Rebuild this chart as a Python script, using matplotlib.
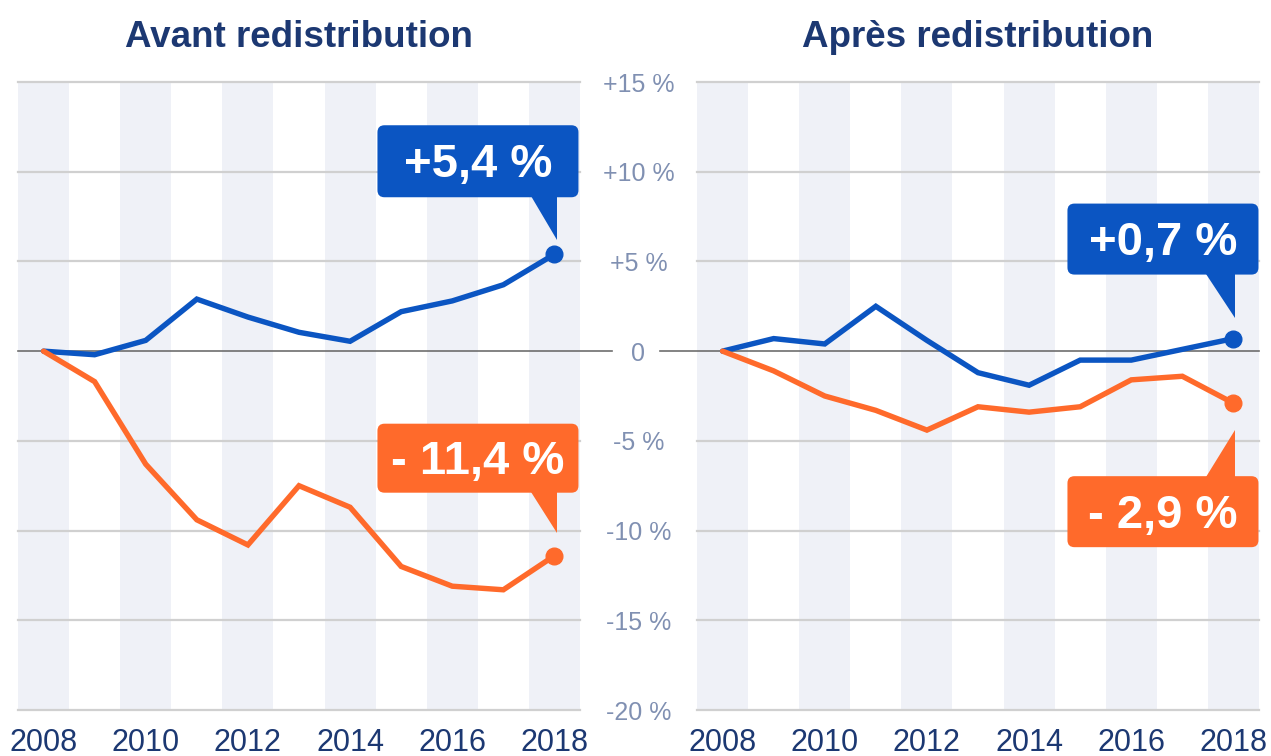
import matplotlib
matplotlib.use("Agg")
import matplotlib.pyplot as plt
from matplotlib import font_manager
from matplotlib.patches import FancyBboxPatch, Polygon
from matplotlib.transforms import IdentityTransform, blended_transform_factory

# ---------------- data ----------------
years = list(range(2008, 2019))
avant_blue = [0.0, -0.2, 0.6, 2.9, 1.9, 1.05, 0.55, 2.2, 2.8, 3.7, 5.4]
avant_orange = [0.0, -1.7, -6.3, -9.4, -10.8, -7.5, -8.7, -12.0, -13.1, -13.3, -11.4]
apres_blue = [0.0, 0.7, 0.4, 2.5, 0.6, -1.2, -1.9, -0.5, -0.5, 0.1, 0.7]
apres_orange = [0.0, -1.1, -2.5, -3.3, -4.4, -3.1, -3.4, -3.1, -1.6, -1.4, -2.9]
titles = ["Avant redistribution", "Après redistribution"]
xtick_years = [2008, 2010, 2012, 2014, 2016, 2018]
ytick_vals = [15, 10, 5, 0, -5, -10, -15, -20]
ytick_labels = ["+15 %", "+10 %", "+5 %", "0", "-5 %", "-10 %", "-15 %", "-20 %"]
labels_avant = ["+5,4 %", "- 11,4 %"]
labels_apres = ["+0,7 %", "- 2,9 %"]

BLUE = "#0b55c2"
ORANGE = "#ff6a2b"
STRIPE = "#eff1f7"
GRID = "#d0d0d0"
NAVY = "#1c3872"
YLAB = "#8090b2"

avail = {f.name for f in font_manager.fontManager.ttflist}
MAIN = "Liberation Sans" if "Liberation Sans" in avail else "DejaVu Sans"

W, H = 1271, 756
fig = plt.figure(figsize=(W / 100, H / 100), dpi=100)

def px_axes(x0, x1, ytop, ybot):
    return fig.add_axes([x0 / W, 1 - ybot / H, (x1 - x0) / W, (ybot - ytop) / H])

ax1 = px_axes(18, 580, 82, 710)
ax2 = px_axes(697, 1259, 82, 710)

for ax, blue, orange, title in [(ax1, avant_blue, avant_orange, titles[0]),
                                (ax2, apres_blue, apres_orange, titles[1])]:
    ax.set_xlim(2007.5, 2018.5)
    ax.set_ylim(-20, 15)
    ax.set_facecolor("white")
    for y in years:
        if y % 2 == 0:
            ax.axvspan(y - 0.5, y + 0.5, color=STRIPE, lw=0, zorder=0)
    for v in ytick_vals:
        if v != 0:
            ax.axhline(v, color=GRID, lw=1.6, zorder=1, clip_on=False)
    for s in ax.spines.values():
        s.set_visible(False)
    ax.set_yticks([])
    ax.set_xticks(xtick_years)
    ax.set_xticklabels([str(y) for y in xtick_years], fontsize=22, color=NAVY,
                       family=MAIN)
    ax.tick_params(axis="x", length=0, pad=13)
    ax.plot(years, blue, color=BLUE, lw=3.9, solid_capstyle="round",
            solid_joinstyle="miter", zorder=3)
    ax.plot(years, orange, color=ORANGE, lw=3.9, solid_capstyle="round",
            solid_joinstyle="miter", zorder=3)
    ax.plot([years[-1]], [blue[-1]], "o", color=BLUE, ms=12, zorder=4)
    ax.plot([years[-1]], [orange[-1]], "o", color=ORANGE, ms=12, zorder=4)
    cx = (ax.get_position().x0 + ax.get_position().x1) / 2
    fig.text(cx, 1 - 47 / H, title, ha="center", va="baseline", fontsize=26.5,
             fontweight="bold", color=NAVY, family=MAIN)

# zero line crossing the gap
ax1.axhline(0, xmin=0, xmax=(612 - 18) / 562, color="#6e6e6e", lw=1.2,
            zorder=2, clip_on=False)
ax2.axhline(0, xmin=(660 - 697) / 562, xmax=1, color="#6e6e6e", lw=1.2,
            zorder=2, clip_on=False)

# y labels in the middle column
tr = blended_transform_factory(fig.transFigure, ax1.transData)
for v, lab in zip(ytick_vals, ytick_labels):
    fig.text(638.5 / W, v, lab, transform=tr, ha="center", va="center_baseline",
             fontsize=18, color=YLAB, family=MAIN)


def callout(ax, x, y, text, color, box, tip, base):
    """box=(dx0, dx1, dy0, dy1) px offsets from data point (y up);
    tip=(dx, dy); base=(dx0, dx1, dy) triangle base on box edge."""
    fig.canvas.draw()
    px, py = ax.transData.transform((x, y))
    dx0, dx1, dy0, dy1 = box
    fb = FancyBboxPatch((px + dx0, py + dy0), dx1 - dx0, dy1 - dy0,
                        boxstyle="round,pad=0,rounding_size=7",
                        transform=IdentityTransform(), fc=color, ec="none",
                        zorder=10)
    fig.add_artist(fb)
    tri = Polygon([(px + base[0], py + base[2]), (px + base[1], py + base[2]),
                   (px + tip[0], py + tip[1])], closed=True,
                  transform=IdentityTransform(), fc=color, ec="none", zorder=10)
    fig.add_artist(tri)
    fig.text(px + (dx0 + dx1) / 2, py + (dy0 + dy1) / 2 + 1, text,
             transform=IdentityTransform(), ha="center", va="center_baseline",
             fontsize=34, fontweight="bold", color="white", family=MAIN,
             zorder=11)

x_end = years[-1]
callout(ax1, x_end, avant_blue[-1], labels_avant[0], BLUE,
        (-177, 24, 57, 129), (3, 14), (-23, 3, 58))
callout(ax1, x_end, avant_orange[-1], labels_avant[1], ORANGE,
        (-177, 24, 63, 132), (3, 23), (-23, 3, 64))
callout(ax2, x_end, apres_blue[-1], labels_apres[0], BLUE,
        (-166, 25, 64, 135), (2, 21), (-27, 2, 65))
callout(ax2, x_end, apres_orange[-1], labels_apres[1], ORANGE,
        (-166, 25, -144, -73), (2, -27), (-27, 2, -74))

fig.savefig("out.png", dpi=100)
